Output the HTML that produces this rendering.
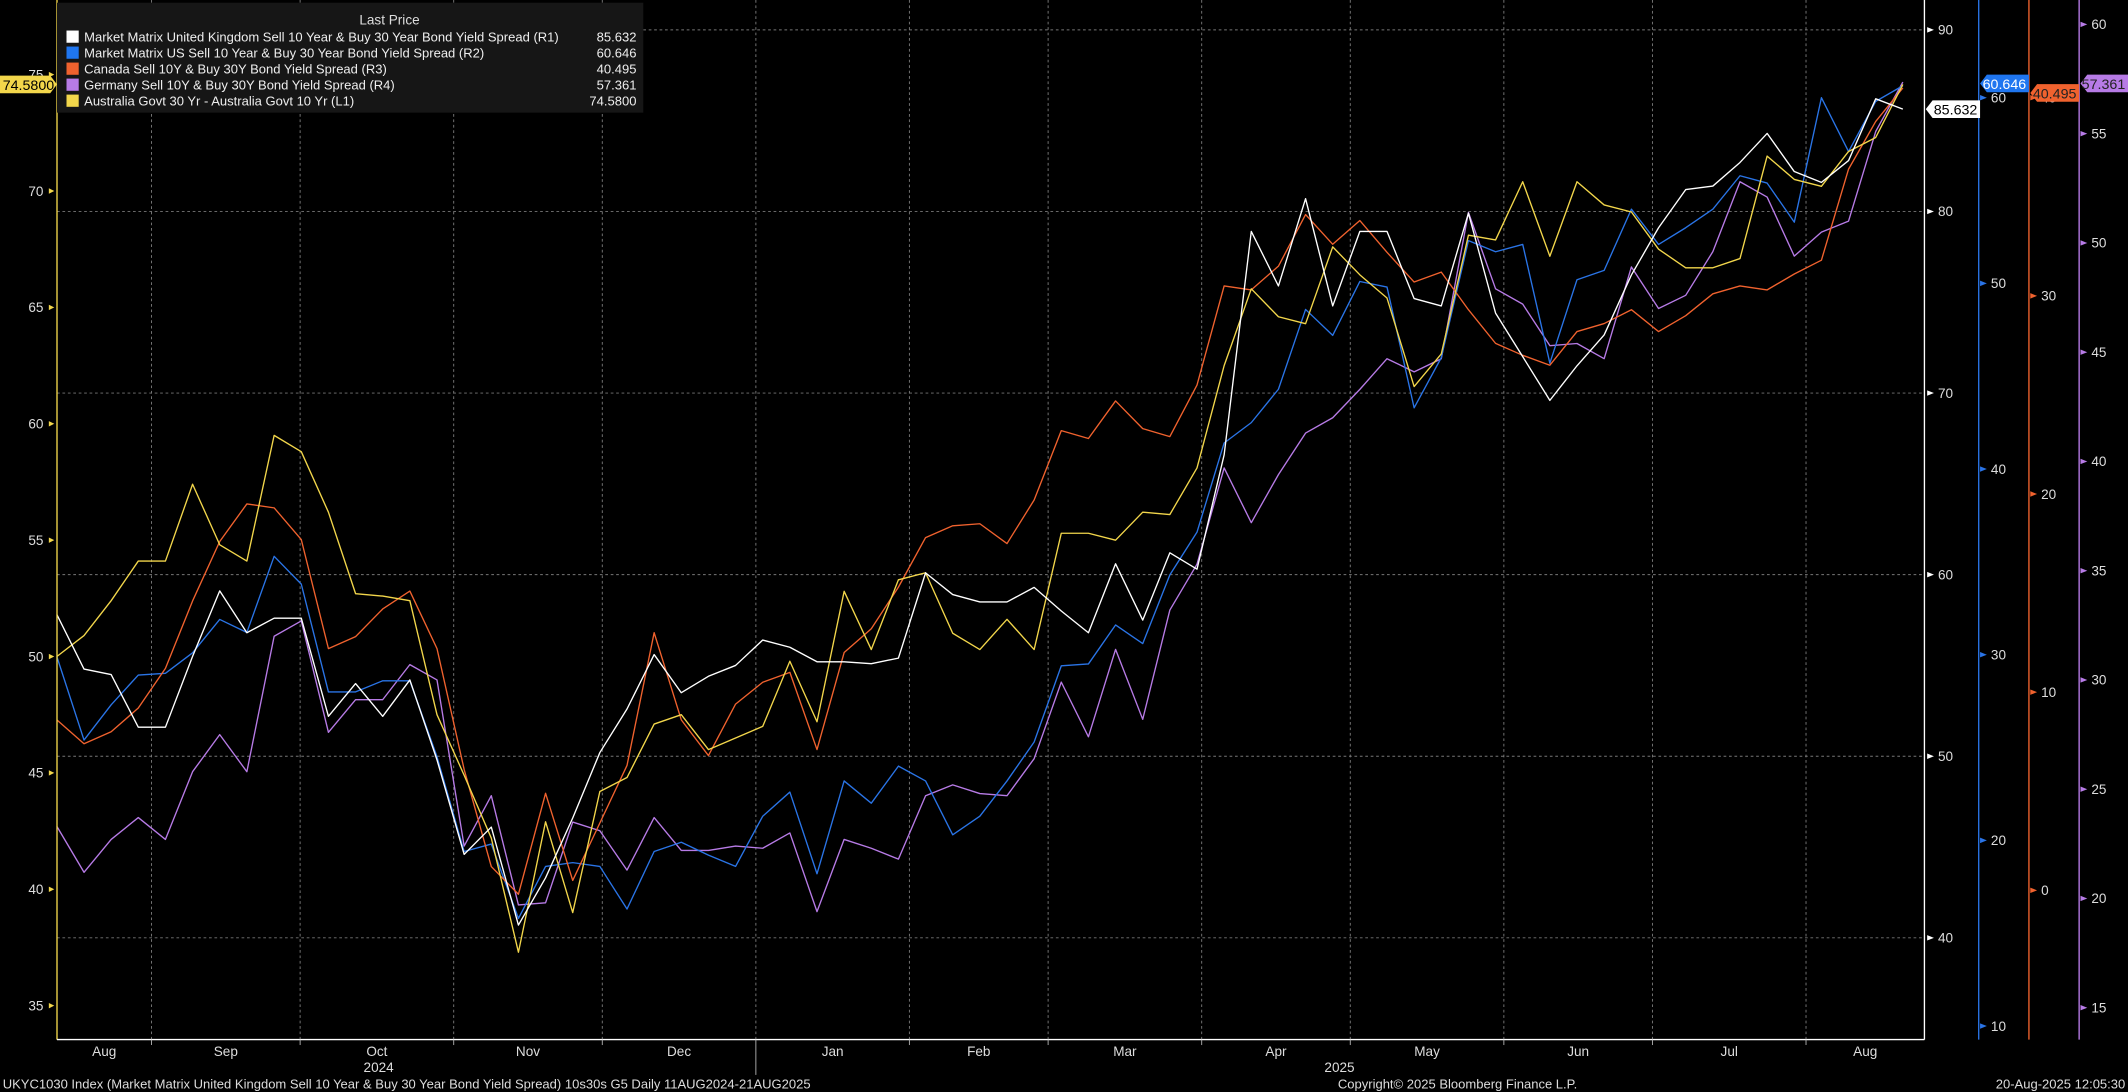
<!DOCTYPE html>
<html><head><meta charset="utf-8"><style>
html,body{margin:0;padding:0;background:#000;overflow:hidden}
svg{display:block}
text{font-family:"Liberation Sans Narrow","Liberation Sans",sans-serif}
</style></head><body>
<svg id="chart" width="2128" height="1092" viewBox="0 0 1568 804.6" preserveAspectRatio="none" xmlns="http://www.w3.org/2000/svg">
<rect width="1568" height="805" fill="#000"/>
<g id="grid"></g><g id="series"></g><g id="axes"></g><g id="legend"></g>
</svg>
<script>
// ---- data ----
const sampleStartDay = 1.9, sampleStepDays = 5.48; // sample dates (days since 11-Aug-2024)
const australiaL1 = [50.0,50.9,52.4,54.1,54.1,57.4,54.8,54.1,59.5,58.8,56.2,52.7,52.6,52.4,47.5,44.9,42.2,37.3,42.9,39.0,44.2,44.8,47.1,47.5,
 46.0,46.5,47.0,49.8,47.2,52.8,50.3,53.3,53.6,51.0,50.3,51.6,50.3,55.3,55.3,55.0,56.2,56.1,58.1,
 62.5,65.8,64.6,64.3,67.6,66.4,65.4,61.6,63.0,68.1,67.9,70.4,67.2,70.4,69.4,69.1,67.5,66.7,66.7,67.1,71.5,70.5,70.2,71.7,72.3,74.58];
const ukR1 = [57.8,54.8,54.5,51.6,51.6,55.5,59.1,56.8,57.6,57.6,52.2,54.0,52.2,54.2,49.8,44.6,46.1,40.7,43.3,46.6,50.2,52.6,55.6,53.5,
 54.4,55.0,56.4,56.0,55.2,55.2,55.1,55.4,60.1,58.9,58.5,58.5,59.3,58.0,56.8,60.6,57.5,61.2,60.3,
 66.6,78.9,75.9,80.7,74.8,78.9,78.9,75.2,74.8,79.9,74.4,72.0,69.6,71.5,73.2,76.5,79.1,81.2,81.4,82.7,84.3,82.2,81.6,82.8,86.2,85.632];
const usR2 = [29.9,25.4,27.3,28.9,29.0,30.1,31.9,31.2,35.3,33.8,28.0,28.0,28.6,28.6,24.5,19.4,19.8,15.8,18.6,18.8,18.6,16.3,19.4,19.9,
 19.2,18.6,21.3,22.6,18.2,23.2,22.0,24.0,23.2,20.3,21.3,23.2,25.3,29.4,29.5,31.6,30.6,34.3,36.6,
 41.4,42.5,44.3,48.6,47.2,50.1,49.8,43.3,46.0,52.3,51.7,52.1,45.7,50.2,50.7,54.0,52.1,53.0,54.0,55.8,55.4,53.3,60.0,57.1,59.8,60.646];
const canadaR3 = [8.6,7.4,8.0,9.2,11.2,14.6,17.6,19.5,19.3,17.7,12.2,12.8,14.2,15.1,12.2,6.1,1.2,-0.2,4.9,0.5,3.4,6.3,13.0,8.6,
 6.8,9.4,10.5,11.0,7.1,12.0,13.2,15.3,17.8,18.4,18.5,17.5,19.7,23.2,22.8,24.7,23.3,22.9,25.5,
 30.5,30.3,31.5,34.1,32.6,33.8,32.2,30.7,31.2,29.3,27.6,27.0,26.5,28.2,28.6,29.3,28.2,29.0,30.1,30.5,30.3,31.1,31.8,36.4,38.8,40.495];
const germanyR4 = [23.3,21.2,22.7,23.7,22.7,25.8,27.5,25.8,32.0,32.7,27.6,29.1,29.1,30.7,30.0,22.4,24.7,19.7,19.8,23.5,23.1,21.3,23.7,22.2,
 22.2,22.4,22.3,23.0,19.4,22.7,22.3,21.8,24.7,25.2,24.8,24.7,26.4,29.9,27.4,31.4,28.2,33.2,35.3,
 39.7,37.2,39.4,41.3,42.0,43.3,44.7,44.1,44.7,51.4,47.9,47.2,45.3,45.4,44.7,48.9,47.0,47.6,49.6,52.8,52.1,49.4,50.5,51.0,55.1,57.361];
const leftTicks = [75,70,65,60,55,50,45,40,35];
const r1Ticks = [90,80,70,60,50,40];
const r2Ticks = [60,50,40,30,20,10];
const r3Ticks = [40,30,20,10,0];
const r4Ticks = [60,55,50,45,40,35,30,25,20,15];
const monthNames = ["Aug","Sep","Oct","Nov","Dec","Jan","Feb","Mar","Apr","May","Jun","Jul","Aug"];
const monthStartDays = [0,21,51,82,112,143,174,202,233,263,294,324,355];
const legendNames = ["Market Matrix United Kingdom Sell 10 Year & Buy 30 Year Bond Yield Spread  (R1)","Market Matrix US Sell 10 Year & Buy 30 Year Bond Yield Spread  (R2)","Canada Sell 10Y & Buy 30Y Bond Yield Spread  (R3)","Germany Sell 10Y & Buy 30Y Bond Yield Spread  (R4)","Australia Govt 30 Yr - Australia Govt 10 Yr  (L1)"];
const legendValues = ["85.632","60.646","40.495","57.361","74.5800"];

// ---- scales ----
const PL=42, PR=1418, PB=766;
const xDay = d => 35 + 3.65*d;
const yL1 = v => 55 + (75-v)*17.15;
const yR1 = v => 22 + (90-v)*13.38;
const yR2 = v => 72 + (60-v)*13.68;
const yR3 = v => 656 - v*14.6;
const yR4 = v => 18 + (60-v)*16.1;
const NS="http://www.w3.org/2000/svg";
function mk(tag, attrs, parent){const e=document.createElementNS(NS,tag);for(const k in attrs)e.setAttribute(k,attrs[k]);parent.appendChild(e);return e;}
const grid=document.getElementById('grid'), ser=document.getElementById('series'), axes=document.getElementById('axes'), leg=document.getElementById('legend');

r1Ticks.forEach(v=>{const l=mk('line',{x1:PL,x2:PR,y1:yR1(v),y2:yR1(v),stroke:'#777','stroke-width':0.7,'stroke-dasharray':'2,2'},grid);

});
monthStartDays.slice(1).forEach(d=>{const l=mk('line',{x1:xDay(d),x2:xDay(d),y1:0,y2:PB,stroke:'#777','stroke-width':0.7,'stroke-dasharray':'2,2'},grid);

});

function drawSeries(vals, yf, color, name){
  const pts = vals.map((v,i)=>{const d=Math.min(sampleStartDay+sampleStepDays*i,375);return xDay(d).toFixed(1)+','+yf(v).toFixed(1);}).join(' ');
  const p=mk('polyline',{points:pts,fill:'none',stroke:color,'stroke-width':1,'stroke-linejoin':'round'},ser);
  
  
}
drawSeries(germanyR4, yR4, '#b77be6', 'germany-series');
drawSeries(usR2, yR2, '#2a74e6', 'us-series');
drawSeries(canadaR3, yR3, '#f0622e', 'canada-series');
drawSeries(australiaL1, yL1, '#f2d64b', 'australia-series');
drawSeries(ukR1, yR1, '#ffffff', 'uk-series');

function vline(x,color,name,y2){const l=mk('line',{x1:x,x2:x,y1:0,y2:y2,stroke:color,'stroke-width':1},axes);

}
vline(PL,'#f2d64b','left-axis-line',PB);
vline(PR,'#ffffff','r1-axis-line',PB);
vline(1458,'#2a74e6','r2-axis-line',766);
vline(1495,'#f0622e','r3-axis-line',766);
vline(1532,'#b77be6','r4-axis-line',766);
const bx=mk('line',{x1:PL,x2:PR,y1:PB,y2:PB,stroke:'#fff','stroke-width':1},axes);



function tickLabels(ticks, yf, x, color, anchor, name){
  ticks.forEach(v=>{
    const y=yf(v);
    const tri = anchor==='end' ? `${x+4},${y-2} ${x+4},${y+2} ${x+8},${y}` : `${x-8},${y-2} ${x-8},${y+2} ${x-3},${y}`;
    mk('polygon',{points:tri,fill:color},axes);
    const t=mk('text',{x:x,y:y+3.5,fill:'#ddd','font-size':10,'text-anchor':anchor},axes);
    t.textContent=v;
    
    
  });
}
tickLabels(leftTicks, yL1, 32, '#f2d64b', 'end', 'left-tick-label');
tickLabels(r1Ticks, yR1, 1428, '#fff', 'start', 'r1-tick-label');
tickLabels(r2Ticks, yR2, 1467, '#2a74e6', 'start', 'r2-tick-label');
tickLabels(r3Ticks, yR3, 1504, '#f0622e', 'start', 'r3-tick-label');
tickLabels(r4Ticks, yR4, 1541, '#b77be6', 'start', 'r4-tick-label');

monthNames.forEach((m,i)=>{
  const a=Math.max(xDay(monthStartDays[i]),PL), b=i<monthNames.length-1?xDay(monthStartDays[i+1]):PR;
  const t=mk('text',{x:(a+b)/2,y:778,fill:'#ddd','font-size':10,'text-anchor':'middle'},axes);
  t.textContent=m;
  
  
  if(i>0){const tk=mk('line',{x1:xDay(monthStartDays[i]),x2:xDay(monthStartDays[i]),y1:PB,y2:PB+(i===5?26:4),stroke:'#aaa','stroke-width':0.7},axes);
  
  }
});
[["2024",279],["2025",987]].forEach(([s,x])=>{const t=mk('text',{x:x,y:790,fill:'#ddd','font-size':10,'text-anchor':'middle'},axes);t.textContent=s;

});

function tag(x,y,w,bg,fg,txt,name,left){
  const pts = left ? `${x},${y+6.5} ${x+5},${y} ${x+w},${y} ${x+w},${y+13} ${x+5},${y+13}` : `${x},${y} ${x+w-5},${y} ${x+w},${y+6.5} ${x+w-5},${y+13} ${x},${y+13}`;
  const g=mk('g',{},axes);
  
  
  mk('polygon',{points:pts,fill:bg},g);
  const t=mk('text',{x:left?x+w-2:x+2,y:y+10.5,fill:fg,'font-size':10.5,'text-anchor':left?'end':'start'},g);t.textContent=txt;
}
tag(0,yL1(74.58)-6.5,42,'#f2d64b','#000','74.5800','l1-last-tag',false);
tag(1419,yR1(85.632)-6.5,40,'#ffffff','#000','85.632','r1-last-tag',true);
tag(1459,55,36,'#1f76f0','#fff','60.646','r2-last-tag',true);
tag(1496,62,36,'#f0622e','#222','40.495','r3-last-tag',true);
tag(1533,55,35,'#b77be6','#222','57.361','r4-last-tag',true);

const lb=mk('rect',{x:42,y:2,width:432,height:81,fill:'#161616'},leg);


const lh=mk('text',{x:287,y:18,fill:'#ddd','font-size':10,'text-anchor':'middle'},leg);lh.textContent='Last Price';


const legColors=['#ffffff','#1f76f0','#f0622e','#b77be6','#f2d64b'];
legendNames.forEach((n,i)=>{
  const y=27+i*11.8;
  const g=mk('g',{},leg);
  
  
  mk('rect',{x:49,y:y-4.5,width:9,height:9,fill:legColors[i]},g);
  const t=mk('text',{x:62,y:y+3.5,fill:'#eee','font-size':9.6},g);t.textContent=n;
  const v=mk('text',{x:469,y:y+3.5,fill:'#eee','font-size':9.6,'text-anchor':'end'},g);v.textContent=legendValues[i];
});

const f1=mk('text',{x:2,y:802,fill:'#ddd','font-size':9.6},axes);
f1.textContent='UKYC1030 Index (Market Matrix United Kingdom Sell 10 Year & Buy 30 Year Bond Yield Spread) 10s30s G5  Daily 11AUG2024-21AUG2025';


const f2=mk('text',{x:1074,y:802,fill:'#ddd','font-size':9.6,'text-anchor':'middle'},axes);
f2.textContent='Copyright© 2025 Bloomberg Finance L.P.';


const f3=mk('text',{x:1566,y:802,fill:'#ddd','font-size':9.6,'text-anchor':'end'},axes);
f3.textContent='20-Aug-2025 12:05:30';


</script>
</body></html>
